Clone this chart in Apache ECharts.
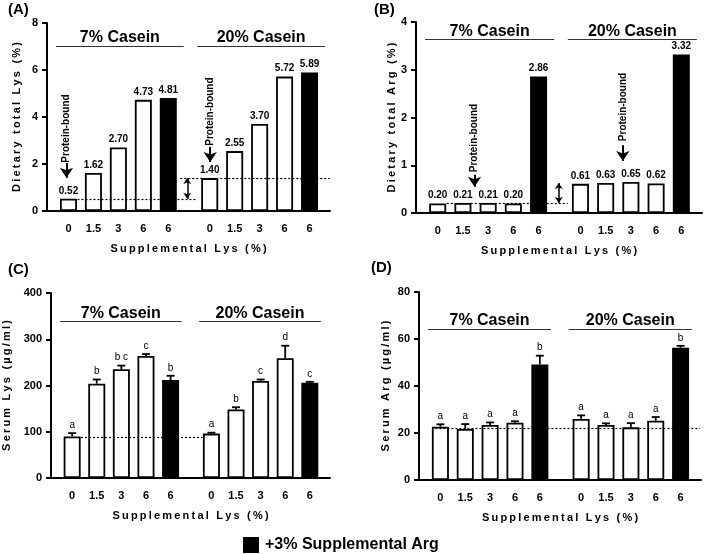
<!DOCTYPE html>
<html>
<head>
<meta charset="utf-8">
<script src="https://cdn.jsdelivr.net/npm/echarts@6/dist/echarts.min.js"></script>
<style>
  html, body { margin: 0; background: #fff; }
  #chart { width: 706px; height: 554px; }
</style>
</head>
<body>
<div id="chart"></div>
<script>
// tick labels under each group, and the two diet groups
var lysLabels = ['0', '1.5', '3', '6', '6'];
var groupNames = ['7% Casein', '20% Casein'];

// (A) dietary total Lys (%)
var dietLys7 = [0.52, 1.62, 2.70, 4.73, 4.81];
var dietLys20 = [1.40, 2.55, 3.70, 5.72, 5.89];
var refLysDiet = [0.52, 1.40];

// (B) dietary total Arg (%)
var dietArg7 = [0.20, 0.21, 0.21, 0.20, 2.86];
var dietArg20 = [0.61, 0.63, 0.65, 0.62, 3.32];
var refArgDiet = [0.21, 0.63];

// (C) serum Lys (ug/ml), mean + SEM
var serumLys7 = [90, 204, 235, 264, 212];
var serumLys7Err = [7, 9, 8, 4, 9];
var serumLys7Sig = ['a', 'b', 'b c', 'c', 'b'];
var serumLys20 = [96, 148, 210, 259, 206];
var serumLys20Err = [2, 5, 3, 27, 2];
var serumLys20Sig = ['a', 'b', 'c', 'd', 'c'];
var refLysSerum = [89];

// (D) serum Arg (ug/ml), mean + SEM
var serumArg7 = [22.7, 21.7, 23.4, 24.4, 49.2];
var serumArg7Err = [1.0, 2.1, 1.1, 0.6, 3.7];
var serumArg7Sig = ['a', 'a', 'a', 'a', 'b'];
var serumArg20 = [26.0, 23.4, 22.4, 25.2, 56.3];
var serumArg20Err = [1.5, 0.7, 1.8, 1.6, 0.8];
var serumArg20Sig = ['a', 'a', 'a', 'a', 'b'];
var refArgSerum = [22];

var FONT = 'Liberation Sans, Arial, sans-serif';
var GROUP_SHIFT = 5.66;   // gap between the two groups, in bar slots

function pos(g, i) {
  return g * GROUP_SHIFT + i;
}

var tickPos = [];
[0, 1].forEach(function (g) {
  lysLabels.forEach(function (l, i) {
    tickPos.push(pos(g, i));
  });
});

function tickText(v) {
  for (var k = 0; k < tickPos.length; k++) {
    if (Math.abs(tickPos[k] - v) < 1e-6) return lysLabels[k % lysLabels.length];
  }
  return '';
}

// wide letter spacing of the axis titles
function spaced(s) {
  return s.split('').join('\u2009');
}

var panels = [
  {
    tag: '(A)', tagPos: [8, 10],
    grid: { left: 47, top: 23, width: 283, height: 188 },
    yMax: 8, yStep: 2, yName: 'Dietary total Lys (%)', yGap: 25,
    v7: dietLys7, v20: dietLys20, values: true,
    headerY: 7.02, headerSpan: [-0.5, 4.62],
    dotted: [[refLysDiet[0], 0.36, 5.16], [refLysDiet[1], 4.48, 10.48]],
    dbl: [4.76, refLysDiet[0], refLysDiet[1]],
    // [x, text centre, arrow top, arrow tip]
    bound: [[-0.08, 3.51, 2.04, 1.42], [5.68, 4.23, 2.72, 2.09]]
  },
  {
    tag: '(B)', tagPos: [374, 10],
    grid: { left: 416, top: 22, width: 286, height: 191 },
    yMax: 4, yStep: 1, yName: 'Dietary total Arg (%)', yGap: 19,
    v7: dietArg7, v20: dietArg20, values: true,
    headerY: 3.64, headerSpan: [-0.5, 4.62],
    dotted: [[refArgDiet[0], 0.36, 5.16], [refArgDiet[1], 4.52, 10.52]],
    dbl: [4.8, refArgDiet[0], refArgDiet[1]],
    bound: [[1.46, 1.57, 0.8, 0.55], [7.34, 2.22, 1.42, 1.09]]
  },
  {
    tag: '(C)', tagPos: [8, 270],
    grid: { left: 48, top: 293, width: 282, height: 185 },
    yMax: 400, yStep: 100, yName: 'Serum Lys (\u00b5g/ml)', yGap: 39,
    v7: serumLys7, v20: serumLys20,
    e7: serumLys7Err, e20: serumLys20Err, s7: serumLys7Sig, s20: serumLys20Sig,
    headerY: 339, headerSpan: [-0.5, 4.45],
    dotted: [[refLysSerum[0], 0.36, 5.3]]
  },
  {
    tag: '(D)', tagPos: [371, 268],
    grid: { left: 419, top: 292, width: 282, height: 188 },
    yMax: 80, yStep: 20, yName: 'Serum Arg (\u00b5g/ml)', yGap: 28,
    v7: serumArg7, v20: serumArg20,
    e7: serumArg7Err, e20: serumArg20Err, s7: serumArg7Sig, s20: serumArg20Sig,
    headerY: 64.3, headerSpan: [-0.5, 4.45],
    dotted: [[refArgSerum[0], -0.2, 10.44]]
  }
];

var grids = [], xAxes = [], yAxes = [], series = [], graphics = [];

panels.forEach(function (p, k) {
  grids.push(p.grid);

  xAxes.push({
    gridIndex: k, type: 'value', min: -0.86, max: 10.48,
    axisLine: { show: true, onZero: false, lineStyle: { color: '#000', width: 2 } },
    axisTick: { show: false },
    splitLine: { show: false },
    axisLabel: {
      customValues: tickPos, formatter: tickText, margin: 12,
      color: '#000', fontSize: 11, fontWeight: 'bold', fontFamily: FONT
    },
    name: spaced('Supplemental Lys (%)'), nameLocation: 'middle', nameGap: 32,
    nameMoveOverlap: false,
    nameTextStyle: { color: '#000', fontSize: 11, fontWeight: 'bold', fontFamily: FONT }
  });

  yAxes.push({
    gridIndex: k, type: 'value', min: 0, max: p.yMax, interval: p.yStep,
    axisLine: { show: true, onZero: false, lineStyle: { color: '#000', width: 2 } },
    axisTick: { show: true, length: 5, lineStyle: { color: '#000', width: 2 } },
    splitLine: { show: false },
    axisLabel: { margin: 9, color: '#000', fontSize: 11, fontWeight: 'bold', fontFamily: FONT },
    name: spaced(p.yName), nameLocation: 'middle', nameGap: p.yGap,
    nameMoveOverlap: false,
    nameTextStyle: { color: '#000', fontSize: 11, fontWeight: 'bold', fontFamily: FONT }
  });

  var bars = [];
  [p.v7, p.v20].forEach(function (vals, g) {
    vals.forEach(function (v, i) {
      bars.push({
        value: [pos(g, i), v],
        itemStyle: { color: i === 4 ? '#000' : '#fff' }
      });
    });
  });

  // header lines, dotted reference lines and arrows
  var lines = [];
  [0, 1].forEach(function (g) {
    lines.push([
      {
        coord: [pos(g, p.headerSpan[0]), p.headerY],
        lineStyle: { type: 'solid', color: '#333', width: 1 },
        label: {
          show: true, formatter: groupNames[g], position: 'insideMiddleTop', distance: 0,
          color: '#000', fontSize: 16, fontWeight: 'bold', fontFamily: FONT
        }
      },
      { coord: [pos(g, p.headerSpan[1]), p.headerY] }
    ]);
  });
  p.dotted.forEach(function (d) {
    lines.push([
      { coord: [d[1], d[0]], lineStyle: { type: [2, 2], color: '#000', width: 1.2 } },
      { coord: [d[2], d[0]] }
    ]);
  });
  if (p.dbl) {
    lines.push([
      { coord: [p.dbl[0], p.dbl[1]], symbol: 'arrow', symbolSize: 6, lineStyle: { type: 'solid', color: '#000', width: 1.5 } },
      { coord: [p.dbl[0], p.dbl[2]], symbol: 'arrow', symbolSize: 6 }
    ]);
  }
  var points = [];
  (p.bound || []).forEach(function (b) {
    lines.push([
      { coord: [b[0], b[2]], symbol: 'none', lineStyle: { type: 'solid', color: '#000', width: 2 } },
      { coord: [b[0], b[3]], symbol: 'arrow', symbolSize: [10, 10] }
    ]);
    points.push({ coord: [b[0], b[1]] });
  });

  series.push({
    type: 'bar', xAxisIndex: k, yAxisIndex: k,
    barWidth: 17,
    itemStyle: { borderColor: '#000', borderWidth: 1.8 },
    label: {
      show: !!p.values, position: 'top', distance: 3,
      formatter: function (q) { return q.value[1].toFixed(2); },
      color: '#000', fontSize: 10, fontWeight: 'bold', fontFamily: FONT
    },
    data: bars,
    markLine: {
      silent: true, animation: false, symbol: 'none',
      label: { show: false },
      data: lines
    },
    markPoint: {
      silent: true, animation: false,
      symbol: 'circle', symbolSize: 1,
      itemStyle: { color: 'rgba(0,0,0,0)' },
      label: {
        show: true, position: 'inside', rotate: 90, formatter: 'Protein-bound',
        color: '#000', fontSize: 10, fontWeight: 'bold', fontFamily: FONT
      },
      data: points
    }
  });

  // error bars with significance letters
  if (p.e7) {
    var errData = [], sig = [];
    [[p.v7, p.e7, p.s7], [p.v20, p.e20, p.s20]].forEach(function (set, g) {
      set[0].forEach(function (v, i) {
        errData.push([pos(g, i), v, set[1][i]]);
        sig.push(set[2][i]);
      });
    });
    series.push({
      type: 'custom', xAxisIndex: k, yAxisIndex: k, z: 4,
      data: errData,
      renderItem: function (params, api) {
        var x = api.value(0), v = api.value(1), e = api.value(2);
        var a = api.coord([x, v]);
        var b = api.coord([x, v + e]);
        var st = { stroke: '#000', lineWidth: 1.8 };
        return {
          type: 'group',
          children: [
            { type: 'line', shape: { x1: a[0], y1: a[1], x2: b[0], y2: b[1] }, style: st },
            { type: 'line', shape: { x1: b[0] - 4, y1: b[1], x2: b[0] + 4, y2: b[1] }, style: st },
            {
              type: 'text',
              style: {
                text: sig[params.dataIndex], x: b[0], y: b[1] - 3,
                align: 'center', verticalAlign: 'bottom',
                fill: '#000', fontSize: 10, fontFamily: FONT
              }
            }
          ]
        };
      }
    });
  }

  graphics.push({
    type: 'text', left: p.tagPos[0], top: p.tagPos[1] - 8,
    style: { text: p.tag, fill: '#000', fontSize: 15, fontWeight: 'bold', fontFamily: FONT }
  });
});

// legend for the black bars
graphics.push({
  type: 'rect', left: 243, top: 537,
  shape: { width: 16, height: 16 },
  style: { fill: '#000' }
});
graphics.push({
  type: 'text', left: 265, top: 537,
  style: { text: '+3% Supplemental Arg', fill: '#000', fontSize: 16, fontWeight: 'bold', fontFamily: FONT }
});

var myChart = echarts.init(document.getElementById('chart'));
var option = {
  animation: false,
  backgroundColor: '#fff',
  grid: grids,
  xAxis: xAxes,
  yAxis: yAxes,
  series: series,
  graphic: graphics
};
option && myChart.setOption(option);
</script>
</body>
</html>
